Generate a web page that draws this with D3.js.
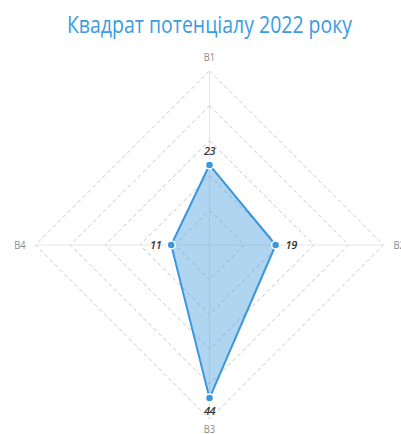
<!DOCTYPE html>
<html>
<head>
<meta charset="utf-8">
<script src="https://cdn.jsdelivr.net/npm/d3@7"></script>
<style>
  body { margin: 0; background: #fff; }
  svg { display: block; }
</style>
</head>
<body>
<div id="chart"></div>
<script>
const axesNames = ['B1', 'B2', 'B3', 'B4'];
const values = [23, 19, 44, 11];
const levels = [10, 20, 30, 40, 50];
const title = 'Квадрат потенціалу 2022 року';

const width = 401, height = 434;
const cx = 209.5, cy = 245;
const radius = 174;

const svg = d3.select('#chart').append('svg')
    .attr('width', width)
    .attr('height', height);

// condensed look via textLength (no narrow font available)
svg.append('text')
    .attr('x', 209.5)
    .attr('y', 33)
    .attr('text-anchor', 'middle')
    .attr('textLength', 285)
    .attr('lengthAdjust', 'spacingAndGlyphs')
    .style('font-family', '"Open Sans", "DejaVu Sans", sans-serif')
    .style('font-size', '24px')
    .style('fill', '#3b9ce0')
    .text(title);

const r = d3.scaleLinear().domain([0, 50]).range([0, radius]);
const angle = d3.scalePoint().domain(axesNames).range([0, 2 * Math.PI * 3 / 4]);

const pt = (name, v) => {
    const a = angle(name) - Math.PI / 2;
    return [cx + Math.cos(a) * r(v), cy + Math.sin(a) * r(v)];
};

const g = svg.append('g');

// dashed grid diamonds
g.selectAll('.grid')
    .data(levels).enter()
    .append('path')
    .attr('class', 'grid')
    .attr('d', lv => d3.line()(axesNames.map(n => pt(n, lv))) + 'Z')
    .attr('fill', 'none')
    .attr('stroke', '#c8c8c8')
    .attr('stroke-width', 1)
    .attr('stroke-dasharray', '4,3');

// axis spokes
g.selectAll('.spoke')
    .data(axesNames).enter()
    .append('line')
    .attr('x1', cx).attr('y1', cy)
    .attr('x2', d => pt(d, 50)[0])
    .attr('y2', d => pt(d, 50)[1])
    .attr('stroke', '#e6e6e6')
    .attr('stroke-width', 1);

// axis labels
const labelOffset = { B1: [0, -10], B2: [10, 4], B3: [0, 14], B4: [-10, 4] };
const labelAnchor = { B1: 'middle', B2: 'start', B3: 'middle', B4: 'end' };
g.selectAll('.axis-label')
    .data(axesNames).enter()
    .append('text')
    .attr('x', d => pt(d, 50)[0] + labelOffset[d][0])
    .attr('y', d => pt(d, 50)[1] + labelOffset[d][1])
    .attr('text-anchor', d => labelAnchor[d])
    .attr('transform', d => {
        const p = pt(d, 50);
        return `translate(${p[0] + labelOffset[d][0]},0) scale(0.85,1) translate(${-(p[0] + labelOffset[d][0])},0)`;
    })
    .style('font-family', '"Open Sans", sans-serif')
    .style('font-size', '11px')
    .style('fill', '#888')
    .text(d => d);

// data area
const dataPts = axesNames.map((n, i) => pt(n, values[i]));
g.append('path')
    .attr('d', d3.line()(dataPts) + 'Z')
    .attr('fill', '#3a97dc')
    .attr('fill-opacity', 0.4)
    .attr('stroke', '#3a97dc')
    .attr('stroke-width', 2)
    .attr('stroke-linejoin', 'round');

g.selectAll('.dot')
    .data(dataPts).enter()
    .append('circle')
    .attr('cx', d => d[0])
    .attr('cy', d => d[1])
    .attr('r', 4)
    .attr('fill', '#3a97dc')
    .attr('stroke', '#fff')
    .attr('stroke-width', 1.5);

// value labels
const valOffset = { B1: [0, -10], B2: [10, 4], B3: [0, 17], B4: [-10, 4] };
g.selectAll('.val')
    .data(axesNames).enter()
    .append('text')
    .attr('x', (d, i) => dataPts[i][0] + valOffset[d][0])
    .attr('y', (d, i) => dataPts[i][1] + valOffset[d][1])
    .attr('text-anchor', d => labelAnchor[d])
    .style('font-family', '"Open Sans", sans-serif')
    .style('font-size', '11px')
    .style('font-style', 'italic')
    .style('font-weight', '600')
    .style('letter-spacing', '-0.5px')
    .style('fill', '#333')
    .text((d, i) => values[i]);
</script>
</body>
</html>
